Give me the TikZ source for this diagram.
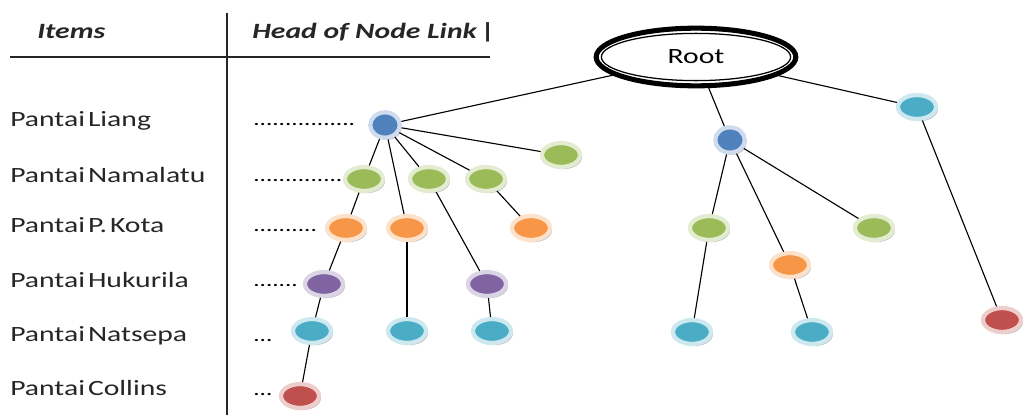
\documentclass[tikz,border=0pt]{standalone}
\usepackage{fontspec}
\setmainfont[FakeStretch=1.36,UprightFeatures={WordSpace=0.45},BoldItalicFeatures={WordSpace=1}]{Carlito}
\usetikzlibrary{shapes.geometric,shadows}
\definecolor{nodeblue}{RGB}{79,129,189}
\definecolor{nodegreen}{RGB}{155,187,89}
\definecolor{nodeorange}{RGB}{247,150,70}
\definecolor{nodepurple}{RGB}{128,100,162}
\definecolor{nodecyan}{RGB}{75,172,198}
\definecolor{nodered}{RGB}{192,80,77}
\begin{document}
\begin{tikzpicture}[
		x=0.025cm, y=-0.025cm,
		item/.style={anchor=base west, inner sep=0pt, text=black!85, font=\fontsize{15.5}{18}\selectfont},
		head/.style={item, font=\fontsize{15.5}{18}\selectfont\bfseries\itshape},
		leader/.style={anchor=base west, inner sep=0pt, font=\fontsize{13.2}{16}\selectfont},
		tableline/.style={line width=1.2pt, black!85},
		link/.style={line width=0.8pt},
		ball/.style={ellipse, fill=#1, draw=#1!28!white, line width=3pt, minimum width=27pt, minimum height=17pt, inner sep=0pt, drop shadow={shadow xshift=1.4pt, shadow yshift=-1.6pt, opacity=0.4, fill=black!60}},
		hub/.style={ball=nodeblue, minimum width=21pt, minimum height=18pt},
		rootnode/.style={ellipse, draw, line width=3.6pt, fill=white, minimum width=142pt, minimum height=41pt, font=\fontsize{15.5}{18}\selectfont},
	]
		\useasboundingbox (0,0) rectangle (1027,415);
		
		\draw[tableline] (227,13) -- (227,415);
		\draw[tableline] (10,57) -- (490,57);
		
		\node at (37,38) (items) [head] {Items};
		\node at (252,38) (headlink) [head] {Head of Node Link\,{\upshape\bfseries|}};
		
		\node at (10,126) (liang) [item] {Pantai Liang};
		\node at (10,182) (namalatu) [item] {Pantai Namalatu};
		\node at (10,232) (kota) [item] {Pantai P. Kota};
		\node at (10,287) (hukurila) [item] {Pantai Hukurila};
		\node at (10,341) (natsepa) [item] {Pantai Natsepa};
		\node at (10,395) (collins) [item] {Pantai Collins};
		
		\node at (253,125) (dotsliang) [leader] {................};
		\node at (253,181) (dotsnamalatu) [leader] {..............};
		\node at (253,231) (dotskota) [leader] {..........};
		\node at (253,286) (dotshukurila) [leader] {.......};
		\node at (253,341) (dotsnatsepa) [leader] {...};
		\node at (253,395) (dotscollins) [leader] {...};
		
		\node at (696,57) (root) [rootnode] {Root};
		\draw[line width=0.9pt] (root.center) ellipse [x radius=67.3pt, y radius=16.8pt];
		
		\node at (385,125) (lia1) [hub] {};
		\node at (730,140) (lia2) [hub] {};
		
		\node at (364,179) (nam1) [ball=nodegreen] {};
		\node at (429,179) (nam2) [ball=nodegreen] {};
		\node at (486,179) (nam3) [ball=nodegreen] {};
		\node at (561,155) (nam4) [ball=nodegreen] {};
		\node at (709,228) (nam5) [ball=nodegreen] {};
		\node at (874,228) (nam6) [ball=nodegreen] {};
		
		\node at (346,228) (kot1) [ball=nodeorange] {};
		\node at (407,228) (kot2) [ball=nodeorange] {};
		\node at (531,228) (kot3) [ball=nodeorange] {};
		\node at (790,265) (kot4) [ball=nodeorange] {};
		
		\node at (324,284) (huk1) [ball=nodepurple] {};
		\node at (487,284) (huk2) [ball=nodepurple] {};
		
		\node at (312,331) (nat1) [ball=nodecyan] {};
		\node at (407,331) (nat2) [ball=nodecyan] {};
		\node at (492,331) (nat3) [ball=nodecyan] {};
		\node at (692,332) (nat4) [ball=nodecyan] {};
		\node at (812,332) (nat5) [ball=nodecyan] {};
		\node at (917,107) (nat6) [ball=nodecyan] {};
		
		\node at (300,396) (col1) [ball=nodered] {};
		\node at (1002,320) (col2) [ball=nodered] {};
		
		\draw[link] (root) -- (lia1);
		\draw[link] (root) -- (lia2);
		\draw[link] (root) -- (nat6);
		
		\draw[link] (lia1) -- (nam4);
		\draw[link] (lia1) -- (nam1);
		\draw[link] (lia1) -- (nam2);
		\draw[link] (lia1) -- (nam3);
		\draw[link] (lia1) -- (kot2);
		\draw[link] (nam1) -- (kot1);
		\draw[link] (nam2) -- (huk2);
		\draw[link] (nam3) -- (kot3);
		\draw[link] (kot1) -- (huk1);
		\draw[link] (kot2) -- (nat2);
		\draw[link] (huk1) -- (nat1);
		\draw[link] (huk2) -- (nat3);
		\draw[link] (nat1) -- (col1);
		
		\draw[link] (lia2) -- (nam5);
		\draw[link] (lia2) -- (kot4);
		\draw[link] (lia2) -- (nam6);
		\draw[link] (nam5) -- (nat4);
		\draw[link] (kot4) -- (nat5);
		
		\draw[link] (nat6) -- (col2);
	\end{tikzpicture}
\end{document}
